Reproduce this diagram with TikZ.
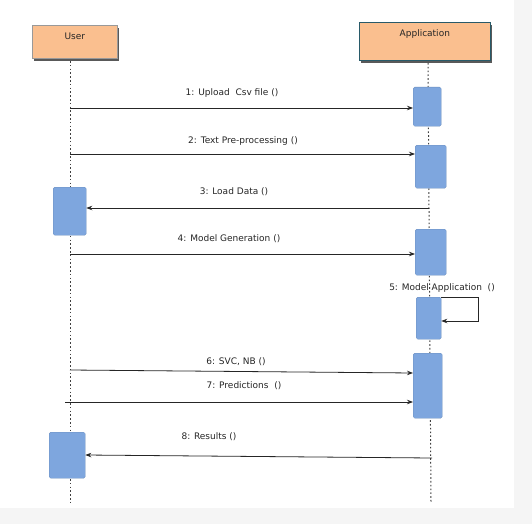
\documentclass[tikz,border=0pt]{standalone}
\usepackage{fontspec}
\setmainfont{DejaVu Sans}
\usetikzlibrary{arrows.meta,shadows}
\definecolor{hdrfill}{RGB}{250,191,143}
\definecolor{actfill}{RGB}{126,166,222}
\definecolor{appedge}{RGB}{40,90,105}
\definecolor{bgmargin}{RGB}{245,245,245}
\tikzset{
  hdrbox/.style={draw=#1, line width=0.6pt, fill=hdrfill, anchor=north west, inner sep=0pt,
     drop shadow={shadow xshift=1.2pt, shadow yshift=-2.5pt, fill=black!65, opacity=1}},
  hdrtxt/.style={font=\fontsize{9pt}{10pt}\selectfont, text=black!85, anchor=north, inner sep=0pt},
  act/.style={fill=actfill, draw=actfill!85!black, line width=0.3pt, rounded corners=1.5pt, anchor=north west, inner sep=0pt},
  lifeline/.style={draw=black!75, line width=1pt, dash pattern=on 1.6pt off 2.2pt},
  msg/.style={draw=black!85, line width=0.8pt, -{Stealth[length=6pt,width=4.5pt]}},
  msgtxt/.style={font=\fontsize{9pt}{10pt}\selectfont, text=black!85, inner sep=0pt}
}
\begin{document}
\begin{tikzpicture}[x=1pt,y=-1pt]
\useasboundingbox (0,0) rectangle (532,524);
\fill[bgmargin] (0,0) rectangle (532,524);
\fill[white] (0,0) rectangle (514,508);

% headers
\node[hdrbox=black!40, minimum width=85pt, minimum height=33pt] (user) at (32,25) {};
\node[hdrtxt] (usertxt) at ([yshift=-8pt]user.north) {User};
\node[hdrbox=appedge, minimum width=131pt, minimum height=38pt] (app) at (359,22) {};
\node[hdrtxt] (apptxt) at ([yshift=-7pt]app.north) {Application};

% lifelines
\coordinate (uTop) at (70,61);
\coordinate (uEnd) at (70,502);
\coordinate (aTop) at (428,63);
\coordinate (aEnd) at (431,502);
\draw[lifeline] (uTop) -- (uEnd);
\draw[lifeline] (aTop) -- (aEnd);

% activations
\node[act, minimum width=28pt, minimum height=39pt] (a1) at (413,87) {};
\node[act, minimum width=31pt, minimum height=43pt] (a2) at (415,145) {};
\node[act, minimum width=31pt, minimum height=46pt] (a4) at (415,229) {};
\node[act, minimum width=25pt, minimum height=42pt] (a5) at (416,297) {};
\node[act, minimum width=29pt, minimum height=65pt] (a6) at (413,353) {};
\node[act, minimum width=33pt, minimum height=48pt] (u3) at (53,187) {};
\node[act, minimum width=36pt, minimum height=46pt] (u8) at (49,432) {};

% messages
\coordinate (m1) at (70,108);
\draw[msg] (m1) -- (m1 -| a1.west);
\node[msgtxt] (t1) at (232,93) {1: Upload\ \ Csv file ()};

\coordinate (m2) at (70,154);
\draw[msg] (m2) -- (m2 -| a2.west);
\node[msgtxt] (t2) at (243,141) {2: Text Pre-processing ()};

\coordinate (m3) at (429,208);
\draw[msg] (m3) -- (m3 -| u3.east);
\node[msgtxt] (t3) at (234,192) {3: Load Data ()};

\coordinate (m4) at (70,254);
\draw[msg] (m4) -- (m4 -| a4.west);
\node[msgtxt] (t4) at (229,239) {4: Model Generation ()};

\coordinate (m5r) at (478,297);
\coordinate (m5b) at (478,321);
\draw[msg] (a5.north east) -- (m5r) -- (m5b) -- (m5b -| a5.east);
\node[msgtxt] (t5) at (442,288) {5: Model Application\ \ ()};

\coordinate (m6) at (70,370);
\draw[msg] (m6) -- (a6.west |- 0,373);
\node[msgtxt] (t6) at (236,362) {6: SVC, NB ()};

\coordinate (m7) at (65,402);
\draw[msg] (m7) -- (m7 -| a6.west);
\node[msgtxt] (t7) at (244,386) {7: Predictions\ \ ()};

\coordinate (m8) at (432,458);
\draw[msg] (m8) -- (u8.east |- 0,455);
\node[msgtxt] (t8) at (209,437) {8: Results\ ()};
\end{tikzpicture}
\end{document}
